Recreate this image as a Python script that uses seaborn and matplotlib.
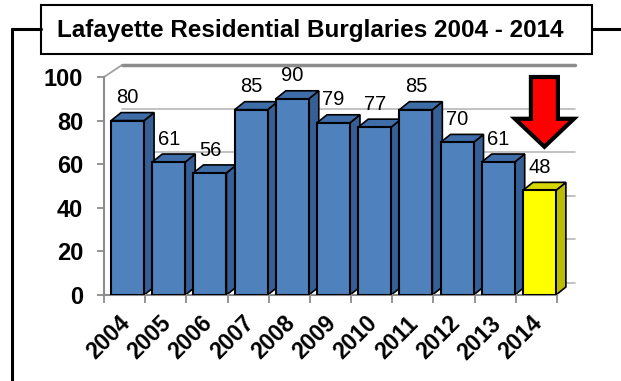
import numpy as np
import pandas as pd
import matplotlib
matplotlib.use('Agg')
import matplotlib.pyplot as plt
import matplotlib.transforms as mtransforms
import seaborn as sns
from matplotlib.patches import Polygon, Rectangle
from matplotlib.lines import Line2D
from matplotlib.ticker import FixedLocator

# data
years = ['2004', '2005', '2006', '2007', '2008', '2009', '2010', '2011', '2012', '2013', '2014']
burglaries = [80, 61, 56, 85, 90, 79, 77, 85, 70, 61, 48]
title = 'Lafayette Residential Burglaries 2004 - 2014'

# colours (front, side, top)
blue = ('#4F81BD', '#365F96', '#3F6DA8')
yellow = ('#FFFF00', '#BDBD00', '#D6D600')
face = [blue] * (len(years) - 1) + [yellow]

sns.set_theme(style='white')
plt.rcParams['font.family'] = ['Liberation Sans', 'DejaVu Sans']
plt.rcParams['text.color'] = 'black'
plt.rcParams['xtick.labelcolor'] = 'black'
plt.rcParams['ytick.labelcolor'] = 'black'

W, H = 621, 381
fig = plt.figure(figsize=(W / 100, H / 100), dpi=100)
ax = fig.add_axes([104 / W, 86 / H, 453 / W, 218 / H])

df = pd.DataFrame({'year': years, 'count': burglaries})
sns.barplot(data=df, x='year', y='count', hue='year', palette=[f[0] for f in face],
            legend=False, width=0.8, edgecolor='black', linewidth=1.5, saturation=1, ax=ax)

ax.set_xlim(-0.5, len(years) - 0.5)
ax.set_ylim(0, 100)

# pixel -> data conversions for the fake depth
px_x = 453 / len(years)
px_y = 218 / 100
bdx, bdy = 10 / px_x, 8 / px_y      # bar depth
wdx, wdy = 18 / px_x, 12 / px_y     # back wall offset
shift = 3 / px_x                    # front faces sit a little right of centre

# back wall gridlines
x0, x1 = -0.5, len(years) - 0.5
for lvl in [0, 20, 40, 60, 80]:
    ax.plot([x0 + wdx, x1 + wdx], [lvl + wdy, lvl + wdy], color='#b8b8b8', lw=1.2,
            zorder=0.5, clip_on=False)
ax.plot([x0 + wdx, x1 + wdx], [100 + wdy, 100 + wdy], color='#8c8c8c', lw=2.5,
        zorder=0.5, clip_on=False)
ax.plot([x0, x0 + wdx], [100, 100 + wdy], color='#a0a0a0', lw=1.3, zorder=0.5, clip_on=False)

# depth faces for each bar
bars = sorted(ax.patches, key=lambda p: p.get_x())
for bar, (fc, sc, tc) in zip(bars, face):
    bar.set_x(bar.get_x() + shift)
    bx0 = bar.get_x()
    bx1 = bx0 + bar.get_width()
    h = bar.get_height()
    side = Polygon([(bx1, 0), (bx1 + bdx, bdy), (bx1 + bdx, h + bdy), (bx1, h)],
                   closed=True, facecolor=sc, edgecolor='black', lw=1.2, zorder=2, clip_on=False)
    top = Polygon([(bx0, h), (bx1, h), (bx1 + bdx, h + bdy), (bx0 + bdx, h + bdy)],
                  closed=True, facecolor=tc, edgecolor='black', lw=1.2, zorder=2, clip_on=False)
    ax.add_patch(side)
    ax.add_patch(top)
    bar.set_zorder(3)
    ax.annotate(f'{h:.0f}', xy=(bx0 + bar.get_width() / 2, h), xytext=(0, 12.5),
                textcoords='offset points', ha='center', va='baseline',
                fontsize=14.5, color='black', zorder=4, annotation_clip=False)

# red arrow over the last bar
last = bars[-1]
ax_c = last.get_x() + last.get_width() / 2 + bdx / 2
tip = burglaries[-1] + 20
ax.arrow(ax_c, 100, 0, -(100 - tip), width=27 / px_x, head_width=59 / px_x,
         head_length=28 / px_y, length_includes_head=True, facecolor='#ff0000',
         edgecolor='black', lw=3, zorder=6, clip_on=False)

# axes styling
sns.despine(ax=ax, top=True, right=True)
for s in ['left', 'bottom']:
    ax.spines[s].set_color('#8c8c8c')
    ax.spines[s].set_linewidth(1.5)
ax.set_xlabel('')
ax.set_ylabel('')
ax.set_yticks([0, 20, 40, 60, 80, 100])
ax.tick_params(axis='y', which='major', left=True, length=5, width=1.3, color='#8c8c8c',
               pad=10, labelsize=17)
ax.tick_params(axis='x', which='major', bottom=False, length=0, pad=2, labelsize=16.5)
ax.xaxis.set_minor_locator(FixedLocator(np.arange(-0.5, len(years), 1.0)))
ax.tick_params(axis='x', which='minor', bottom=True, length=6, width=1.3, color='#8c8c8c')
for lab in ax.get_yticklabels():
    lab.set_fontweight('bold')
offset = mtransforms.ScaledTranslation(-6 / 100, -14 / 100, fig.dpi_scale_trans)
for lab in ax.get_xticklabels():
    lab.set_fontweight('bold')
    lab.set_rotation(45)
    lab.set_ha('right')
    lab.set_va('top')
    lab.set_rotation_mode('anchor')
    lab.set_transform(lab.get_transform() + offset)

# outer frame and title box
fy = 1 - 29 / H
fig.add_artist(Line2D([12 / W, 12 / W], [0, fy], color='black', lw=2.2, transform=fig.transFigure))
fig.add_artist(Line2D([12 / W, 41 / W], [fy, fy], color='black', lw=2.2, transform=fig.transFigure))
fig.add_artist(Line2D([592 / W, 1], [fy, fy], color='black', lw=2.2, transform=fig.transFigure))
fig.add_artist(Rectangle((41 / W, 1 - 54 / H), 551 / W, 49 / H, facecolor='white',
                         edgecolor='black', lw=1.5, transform=fig.transFigure))
fig.text(310 / W, 1 - 30 / H, title, ha='center', va='center', fontsize=17.5,
         fontweight='bold')

fig.savefig('out.png', dpi=100)
